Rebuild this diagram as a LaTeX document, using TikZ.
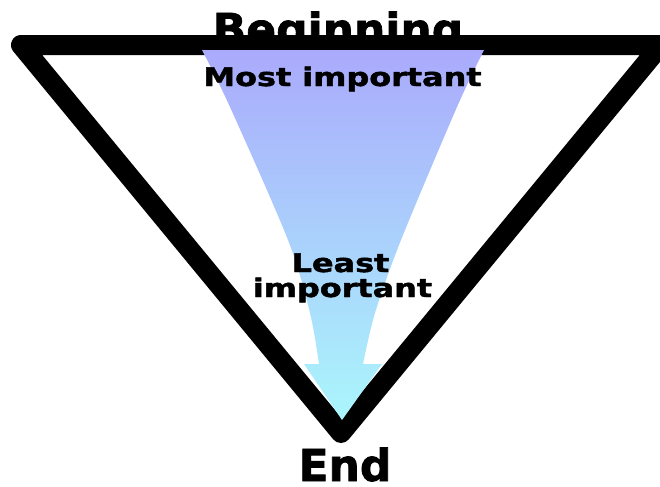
\documentclass[tikz,border=0pt]{standalone}
\usepackage{fontspec}
\setmainfont{DejaVu Sans}[BoldFeatures={FakeBold=1.6}]
\newcommand{\widetxt}[1]{\scalebox{1.25}[1]{#1}}
\definecolor{funneltop}{RGB}{170,170,252}
\definecolor{funnelbot}{RGB}{170,246,252}
\begin{document}
\begin{tikzpicture}[x=0.5pt, y=-0.5pt,
    big/.style={font=\fontsize{22}{26}\selectfont\bfseries, inner sep=0pt, anchor=base},
    lab/.style={font=\fontsize{12.75}{15}\selectfont\bfseries, inner sep=0pt, anchor=base},
    frame/.style={line width=10pt, line join=round, line cap=round}
  ]
  \useasboundingbox (0,0) rectangle (660,487);
  \node[big] (beg) at (338,45) {Beginning};
  \coordinate (tl) at (21,45);
  \coordinate (bt) at (341,433);
  \coordinate (tr) at (661,45);
  \draw[frame] (tl) -- (bt) -- (tr) -- cycle;
  \shade[top color=funneltop, bottom color=funnelbot]
    plot[smooth] coordinates {(202,50) (230,107) (288,240) (310,313) (319,364)}
    -- (304,364) -- (342,420) -- (382,364) -- (363,364)
    -- plot[smooth] coordinates {(363,364) (375,313) (401,240) (457,107) (484,50)}
    -- cycle;
  \node[lab] (most) at (342.5,86) {\widetxt{Most important}};
  \node[lab] (least) at (340.5,272) {\widetxt{Least}};
  \node[lab] (imp) at (342.5,297) {\widetxt{important}};
  \node[big] (end) at (345,481) {End};
\end{tikzpicture}
\end{document}
